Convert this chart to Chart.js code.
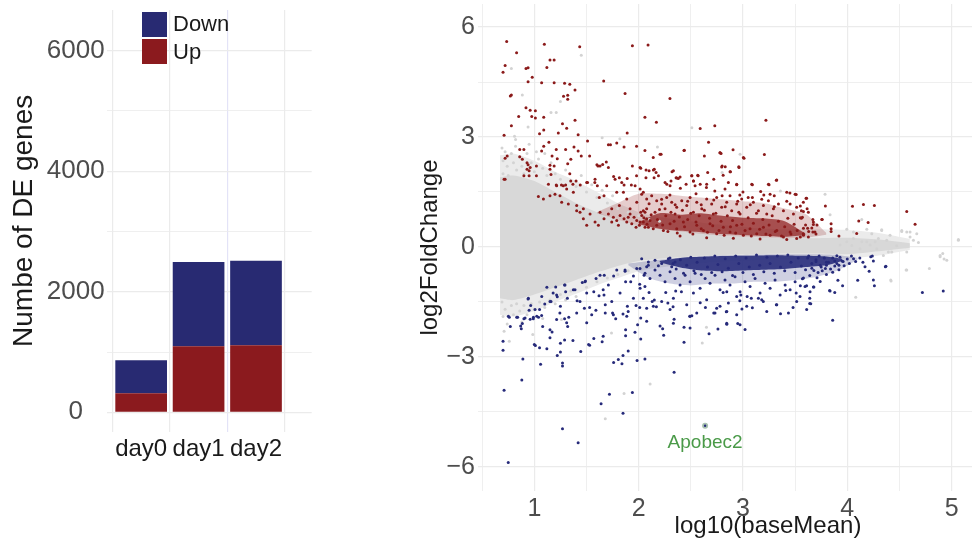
<!DOCTYPE html>
<html>
<head>
<meta charset="utf-8">
<script src="https://cdn.jsdelivr.net/npm/chart.js@4.4.1/dist/chart.umd.min.js"></script>
<style>
html, body { margin: 0; padding: 0; background: #fff; overflow: hidden; width: 972px; height: 548px; }
body { position: relative; font-family: "Liberation Sans", Arial, sans-serif; }
#barWrap { position: absolute; left: 0; top: 0; width: 320px; height: 548px; }
#maWrap { position: absolute; left: 400px; top: 0; width: 672px; height: 548px; }
.legend { position: absolute; left: 142px; top: 10.5px; font-size: 22px; color: #1a1a1a; }
.legend .row { display: flex; align-items: center; height: 27.6px; }
.legend .box { width: 25px; height: 25px; margin-right: 6px; }
</style>
</head>
<body>
<div id="barWrap"><canvas id="barChart" width="320" height="548"></canvas></div>
<div class="legend">
  <div class="row"><div class="box" style="background:#282a72"></div>Down</div>
  <div class="row"><div class="box" style="background:#8b1a1e"></div>Up</div>
</div>
<div id="maWrap"><canvas id="maChart" width="672" height="548"></canvas></div>

<script>
// ─── DATA ────────────────────────────────────────────────────────────────────

// left panel: number of DE genes per day
const days = ["day0", "day1", "day2"];
const upCounts = [315, 1094, 1111];
const downCounts = [547, 1398, 1403];
const countTicks = [0, 1000, 2000, 3000, 4000, 5000, 6000];

// right panel: MA plot, [log10(baseMean), log2FoldChange]
const meanTicks = [0.5, 1, 1.5, 2, 2.5, 3, 3.5, 4, 4.5, 5, 5.5, 6];
const lfcTicks = [-6, -4.5, -3, -1.5, 0, 1.5, 3, 4.5, 6];

// dense grey cloud, read as upper / lower edges
const greyEnvX    = [0.67, 0.8, 1.0, 1.2, 1.4, 1.6, 1.8, 2.0, 2.2, 2.5, 2.8, 3.1, 3.4, 3.7, 4.0, 4.3, 4.6];
const greyOuterHi = [2.5, 2.55, 2.35, 2.05, 1.8, 1.5, 1.2, 0.95, 0.82, 0.7, 0.6, 0.52, 0.48, 0.48, 0.46, 0.38, 0.22];
const greyOuterLo = [-1.85, -1.9, -1.75, -1.5, -1.28, -1.05, -0.85, -0.66, -0.56, -0.47, -0.4, -0.36, -0.33, -0.33, -0.31, -0.23, -0.08];
const greyCoreHi  = [1.9, 1.95, 1.8, 1.5, 1.2, 0.95, 0.75, 0.58, 0.48, 0.4, 0.32, 0.27, 0.24, 0.24, 0.25, 0.2, 0.1];
const greyCoreLo  = [-1.4, -1.45, -1.3, -1.1, -0.9, -0.7, -0.52, -0.38, -0.32, -0.26, -0.22, -0.2, -0.18, -0.18, -0.2, -0.12, -0.02];

// up band: scattered part and densest part
const redOuterX  = [1.6, 1.8, 2.0, 2.2, 2.4, 2.6, 2.8, 3.0, 3.2, 3.4, 3.6, 3.8];
const redOuterHi = [0.95, 1.2, 1.45, 1.45, 1.4, 1.35, 1.3, 1.25, 1.2, 1.05, 0.9, 0.38];
const redOuterLo = [0.92, 0.75, 0.58, 0.48, 0.42, 0.36, 0.31, 0.28, 0.26, 0.24, 0.25, 0.33];
const redCoreX   = [2.0, 2.2, 2.4, 2.6, 2.8, 3.0, 3.2, 3.4, 3.6];
const redCoreHi  = [0.68, 0.92, 0.88, 0.92, 0.85, 0.8, 0.78, 0.7, 0.36];
const redCoreLo  = [0.62, 0.5, 0.44, 0.4, 0.35, 0.32, 0.3, 0.28, 0.32];

// down band: scattered part and densest part
const blueOuterX  = [1.9, 2.1, 2.3, 2.5, 2.7, 2.9, 3.1, 3.3, 3.5, 3.7, 3.9, 4.1];
const blueOuterHi = [-0.45, -0.38, -0.32, -0.27, -0.24, -0.22, -0.21, -0.2, -0.2, -0.2, -0.22, -0.3];
const blueOuterLo = [-0.5, -0.85, -1.0, -1.05, -1.0, -1.0, -0.95, -0.95, -0.9, -0.82, -0.65, -0.35];
const blueCoreX   = [2.2, 2.4, 2.6, 2.8, 3.0, 3.2, 3.4, 3.6, 3.8, 3.95];
const blueCoreHi  = [-0.38, -0.3, -0.27, -0.25, -0.24, -0.23, -0.23, -0.24, -0.26, -0.32];
const blueCoreLo  = [-0.42, -0.56, -0.64, -0.66, -0.64, -0.62, -0.6, -0.55, -0.5, -0.38];

const upGenes = [
  [0.735,5.61],[1.096,5.53],[1.435,5.46],[1.94,5.49],[2.09,5.51],[0.83,5.30],[0.72,4.95],[0.70,4.77],[0.92,4.87],[0.94,4.89],
  [1.15,5.10],[1.19,5.10],[1.12,4.90],[0.98,4.63],[0.94,4.51],[1.07,4.48],[1.19,4.48],[1.29,4.47],[1.34,4.44],[1.39,4.28],
  [1.32,4.14],[1.28,4.11],[1.32,4.03],[0.77,4.12],[0.78,4.15],[1.665,4.53],[1.87,4.19],[2.30,4.05],[0.92,3.80],[0.96,3.73],
  [1.01,3.72],[0.85,3.56],[0.975,3.56],[1.01,3.52],[1.09,3.54],[1.39,3.46],[2.06,3.54],[2.17,3.40],[0.78,3.31],[1.27,3.36],
  [1.31,3.24],[1.09,3.19],[2.59,3.23],[2.73,3.31],[0.71,3.05],[1.05,3.09],[1.23,3.11],[1.42,3.06],[1.89,3.11],
  [3.22,3.46],[3.205,2.52],[2.905,2.65],[3.01,2.42],[2.96,2.19],[2.80,2.21],[2.78,2.57],[2.88,2.05],[2.94,1.70],[3.09,1.70],
  [3.25,1.70],[3.32,1.82],[3.17,1.51],[3.26,1.44],[3.30,1.40],[3.45,1.47],[3.51,1.43],[3.61,1.33],[3.79,1.12],[4.05,1.11],
  [4.155,1.16],[4.26,1.13],[4.57,0.97],[4.65,0.62],[3.845,0.63],[3.845,0.50],[4.20,0.67],[4.09,0.37],[3.92,0.30],[3.755,0.75],
  [3.675,0.68],[3.71,0.60],[3.58,0.97],[3.57,0.81],[3.09,1.35],[3.05,1.35],[2.97,1.42],
  [4.11,0.71],[3.845,0.42],[3.67,0.75],[3.675,0.61],[3.69,0.41],[3.67,0.41],[3.76,0.75],[3.615,1.04],[3.56,0.99],[3.56,0.78],
  [3.62,0.51],[3.58,0.51],[3.55,0.27],
  [0.74,2.48],[0.72,2.42],[0.72,1.85],[0.86,2.66],[0.90,2.66],[0.86,2.46],[0.885,2.39],[0.93,2.30],[0.94,2.24],[0.96,2.17],
  [0.93,2.12],[0.90,1.94],[0.95,1.94],[0.95,2.08],[1.02,2.21],[1.02,1.94],[1.07,2.62],[1.09,2.75],[1.14,2.86],[1.21,2.66],
  [1.17,2.48],[1.15,2.23],[1.19,2.21],[1.22,2.41],[1.30,2.66],[1.35,2.39],[1.32,2.27],[1.38,2.73],[1.42,2.62],[1.45,2.48],
  [1.51,2.89],[1.53,2.48],[1.61,2.21],[1.655,2.25],[1.69,2.32],[1.71,2.79],[1.73,2.79],[1.79,2.84],[1.86,2.73],[1.94,2.21],
  [1.98,2.75],[2.06,2.63],[2.14,2.44],[2.205,2.53],[2.32,2.05],[2.38,1.87],[2.435,2.63],[2.51,1.94],[2.57,1.94],[2.63,2.48],
  [2.67,2.86],[2.79,2.55],[2.83,2.19],[2.73,1.53],
  [1.15,2.12],[1.16,1.98],[1.21,1.69],[1.26,1.69],[1.30,1.69],[1.34,2.00],[1.37,1.71],[1.40,1.80],[1.44,1.69],[1.51,1.76],
  [1.58,1.76],[1.60,2.24],[1.63,2.21],[1.71,2.17],[1.76,1.92],[1.815,1.89],[1.86,1.69],[1.89,1.87],[1.93,1.69],[1.98,1.94],
  [2.02,2.15],[2.07,1.89],[2.10,2.08],[2.15,2.12],[2.19,1.94],[2.27,1.71],[2.31,1.80],[2.365,1.88],[2.40,1.60],[2.455,1.71],
  [2.525,1.80],[2.59,1.71],[2.65,1.62],[2.72,1.85],[2.81,1.96],[2.86,1.76],
  [0.71,1.85],[1.039,1.38],[1.087,1.31],[1.15,1.40],[1.198,1.44],[1.246,1.40],[1.31,1.58],[1.262,1.22],[1.326,1.17],[1.374,1.49],
  [1.406,1.13],[1.438,0.95],[1.47,1.04],[1.582,1.85],[1.604,1.67],[1.623,1.35],[1.668,1.40],[1.694,1.67],[1.742,1.04],[1.774,1.85],
  [1.79,1.49],[1.815,1.13],[1.838,1.76],[1.854,1.49],[1.886,1.31],[1.918,1.04],[1.966,1.67],[1.982,1.22],[2.014,1.58],[2.045,1.49],
  [2.077,1.04],[1.278,1.67],[1.214,1.67],[1.135,1.71],[1.349,1.80],[1.502,1.76],
  [1.71,0.90],[1.758,0.81],[1.79,0.72],[1.822,0.86],[1.86,0.77],[1.886,0.68],[1.918,0.90],[1.934,0.63],[1.956,0.81],[1.982,0.72],
  [2.007,0.59],[2.03,0.86],[2.045,0.68],[2.077,0.77],[2.093,0.54],[1.742,0.68],[1.806,0.59],[1.90,0.81],[1.975,0.54],[2.061,0.95],
  [1.406,0.99],[1.47,0.77],[1.534,0.90],[1.582,0.68],[1.63,0.95],[1.668,0.77],[1.502,0.59],[1.614,0.59],
  [2.438,2.64],[2.215,2.53],[2.013,2.17],[2.071,2.10],[2.141,2.10],[2.167,2.03],[2.148,1.89],[2.333,2.08],[2.359,1.89],[2.397,1.91],
  [2.509,1.94],[2.566,1.96],[2.662,2.03],[2.78,2.57],[2.796,2.18],[2.876,2.05],[2.962,2.17],[3.004,2.44],[2.253,1.76],[2.301,1.67],
  [2.525,1.80],[2.541,1.67],[2.652,1.71],[2.828,1.58],[2.876,1.40],[2.94,1.71],[3.084,1.71],[3.244,1.71],[3.324,1.83],[3.42,1.49],
  [3.50,1.44],[3.605,1.33],
  [2.029,1.44],[2.077,1.31],[2.125,1.40],[2.173,1.26],[2.221,1.17],[2.269,1.35],[2.317,1.22],[2.365,1.08],[2.413,1.26],[2.461,1.13],
  [2.493,1.35],[2.557,1.22],[2.605,1.04],[2.652,1.31],[2.70,1.17],[2.748,1.35],[2.796,1.08],[2.844,1.22],[2.892,0.99],[2.94,1.17],
  [2.988,1.31],[3.036,1.08],[3.10,1.22],[3.148,0.99],[3.196,1.13],[3.244,1.26],[3.292,1.04],[3.34,1.17],[3.388,0.99],[3.452,1.17],
  [3.515,1.08],[3.579,1.22],[3.627,0.95],[2.045,0.99],[2.157,0.95],[2.253,1.04],[2.349,0.90],[2.525,0.95],[2.716,0.90],[2.972,0.90],
  [3.228,0.90],[3.484,0.90],
  [2.013,0.68],[2.061,0.54],[2.109,0.72],[2.173,0.59],[2.237,0.45],[2.301,0.63],[2.365,0.50],[2.429,0.68],[2.493,0.41],[2.557,0.59],
  [2.621,0.45],[2.684,0.63],[2.748,0.36],[2.812,0.54],[2.876,0.41],[2.94,0.59],[3.004,0.32],[3.068,0.50],[3.132,0.36],[3.196,0.54],
  [3.26,0.32],[3.324,0.45],[3.388,0.27],[3.452,0.41],[3.515,0.23],[3.579,0.36],[3.627,0.27],[2.397,0.30],[2.652,0.25],[2.908,0.24],
  [3.164,0.22],[3.42,0.20],
  [2.02,0.95],[2.05,0.80],[2.08,0.62],[2.12,0.88],[2.14,0.50],[2.18,0.75],[2.20,1.02],[2.23,0.60],[2.26,0.85],[2.28,0.42],
  [2.31,0.95],[2.34,0.70],[2.37,0.38],[2.39,0.82],[2.42,1.00],[2.44,0.55],[2.47,0.75],[2.50,0.92],[2.52,0.35],[2.55,0.68],
  [2.58,0.85],[2.60,0.50],[2.63,1.00],[2.66,0.40],[2.68,0.78],[2.71,0.58],[2.74,0.92],[2.77,0.45],[2.79,0.70],[2.82,0.32],
  [2.85,0.85],[2.88,0.55],[2.90,0.72],[2.93,0.38],[2.96,0.95],[2.99,0.62],[3.02,0.45],[3.05,0.80],[3.08,0.30],[3.10,0.65],
  [3.13,0.92],[3.16,0.48],[3.19,0.75],[3.22,0.35],[3.25,0.60],[3.28,0.85],[3.31,0.42],[3.34,0.70],[3.37,0.30],[3.40,0.55],
  [3.43,0.78],[3.46,0.35],[3.49,0.62],[3.52,0.45],[3.55,0.80],[3.58,0.32],[3.60,0.60],[3.63,0.42],[3.66,0.52],[3.70,0.35],
  [2.10,1.18],[2.22,1.30],[2.35,1.15],[2.47,1.25],[2.60,1.15],[2.72,1.28],[2.83,1.10],[2.95,1.25],[3.07,1.15],[3.18,1.30],
  [3.30,1.10],[3.42,1.25],[3.55,1.12],[2.30,1.42],[2.55,1.45],[2.80,1.40],[3.00,1.50],[3.20,1.42]
];

const downGenes = [
  [0.75,-5.88],[1.42,-5.34],[1.27,-4.96],[0.71,-3.91],[0.88,-3.63],[1.64,-4.28],[1.72,-4.02],[1.85,-4.54],[1.94,-3.97],[2.34,-3.42],
  [0.70,-2.57],[0.70,-2.82],[0.89,-3.06],[1.06,-3.20],[1.27,-3.17],[1.27,-3.25],[1.22,-2.96],[1.25,-2.87],[1.12,-2.78],[1.05,-2.75],
  [1.00,-2.66],[1.01,-2.69],[1.445,-2.85],[1.52,-2.66],[1.53,-2.68],[1.76,-3.15],[1.805,-3.07],[1.84,-3.19],[1.85,-2.96],[1.90,-2.84],
  [1.985,-3.10],[2.06,-3.06],[1.57,-2.50],[1.65,-2.59],[1.66,-2.44],[1.875,-2.26],[1.875,-2.42],[1.965,-2.33],[2.02,-2.51],[2.23,-2.23],
  [2.24,-2.41],[2.435,-2.60],[2.435,-2.19],[2.34,-1.97],[2.49,-1.89],[2.51,-1.88],[2.675,-2.37],[2.76,-2.24],[2.845,-2.11],
  [0.76,-1.92],[0.77,-2.17],[0.84,-1.92],[0.875,-2.23],[0.885,-2.09],[0.90,-1.96],[0.96,-1.97],[0.99,-1.96],[1.04,-1.92],[1.08,-2.17],
  [1.15,-2.26],[1.17,-2.32],[1.15,-2.48],[1.25,-2.63],[1.29,-2.54],[1.37,-2.55],[1.32,-2.17],[1.33,-1.92],[1.29,-1.96],[1.245,-1.80],
  [1.25,-1.62],[0.94,-1.42],[0.965,-1.60],[0.95,-1.73],[1.05,-1.71],[1.07,-1.87],[1.10,-1.56],[1.16,-1.49],[1.22,-1.36],[1.18,-1.26],
  [1.29,-1.04],[1.30,-1.22],[1.12,-1.10],[1.205,-1.09],[1.39,-1.17],[1.46,-0.97],[1.49,-0.93],[1.57,-1.22],[1.62,-1.33],[1.66,-1.17],
  [1.41,-1.47],[1.48,-1.67],[1.53,-1.65],[1.59,-1.73],[1.68,-1.58],[1.68,-1.80],[1.75,-1.80],[1.78,-1.96],[1.85,-1.83],[1.90,-1.76],
  [1.975,-1.60],[2.01,-1.65],[2.02,-1.94],[1.99,-2.12],
  [1.67,-0.77],[1.76,-0.79],[1.87,-0.66],[1.875,-0.95],[1.95,-0.79],[2.01,-1.02],[2.06,-1.08],[2.10,-1.24],[2.13,-1.49],[2.15,-1.45],
  [2.17,-1.63],[2.28,-1.53],[2.33,-1.63],[2.26,-1.24],[2.355,-1.20],[2.41,-1.22],[2.525,-1.26],[2.59,-1.52],[2.64,-1.65],[2.72,-1.80],
  [2.78,-1.62],[2.845,-1.76],
  [2.95,-2.09],[3.02,-2.25],[2.84,-1.77],[2.99,-1.69],[3.09,-1.66],[3.86,-2.00],[4.72,-1.245],[4.92,-1.20],[4.10,-0.91],[4.25,-0.90],
  [4.26,-1.06],[4.21,-0.66],[4.37,-0.53],[4.225,-0.27],[3.36,-1.82],[3.48,-1.65],[3.32,-1.58],[3.64,-1.54],[3.64,-1.40],[3.18,-1.44],
  [3.195,-1.49],[3.08,-1.40],[2.97,-1.47],[2.94,-1.35],[2.98,-1.31],[3.04,-1.35],[2.81,-1.24],[2.845,-1.22],[3.41,-1.19],[3.51,-1.26],
  [3.675,-1.09],[3.835,-1.20],[3.88,-1.24],[3.955,-1.06],
  [4.365,-0.54],[4.24,-0.25],[4.25,-0.38],[3.83,-1.19],[3.91,-0.91],[3.74,-0.94],[3.71,-0.84],[3.61,-1.06],[3.68,-1.09],[4.06,-0.32],
  [4.00,-0.33],[3.90,-0.24],[4.17,-0.54],[3.97,-0.51],[3.92,-0.62],[3.86,-0.69],[3.79,-0.59],[3.80,-0.42],[3.75,-0.55],[3.68,-0.64],
  [3.57,-0.87],[3.55,-1.06],[3.65,-1.55],
  [3.86,-0.30],[3.90,-0.45],[3.95,-0.38],[4.02,-0.45],[4.08,-0.40],[4.12,-0.30],[4.15,-0.42],[3.88,-0.52],[3.93,-0.28],[4.04,-0.25],
  [2.013,-0.59],[2.061,-0.72],[2.109,-0.86],[2.157,-0.63],[2.205,-0.77],[2.253,-0.95],[2.301,-0.68],[2.349,-0.86],[2.397,-1.04],[2.445,-0.77],
  [2.493,-0.95],[2.541,-0.72],[2.589,-1.13],[2.637,-0.86],[2.684,-0.99],[2.732,-0.77],[2.78,-1.17],[2.828,-0.90],[2.876,-1.04],[2.924,-0.81],
  [2.972,-1.22],[3.02,-0.95],[3.068,-1.08],[3.116,-0.86],[3.164,-1.26],[3.212,-0.99],[3.26,-1.13],[3.308,-0.90],[3.356,-1.31],[3.404,-1.04],
  [3.452,-1.17],[3.50,-0.95],[3.547,-1.35],[3.595,-1.08],[3.643,-1.22],
  [2.045,-1.40],[2.141,-1.62],[2.221,-1.49],[2.301,-1.71],[2.333,-1.40],[2.461,-1.58],[2.557,-1.80],[2.493,-1.89],[2.652,-1.44],[2.748,-1.67],
  [2.86,-1.53],[2.94,-1.85],[3.036,-1.62],[3.148,-1.40],[3.228,-1.76],[3.324,-1.58],[3.436,-1.80],[3.515,-1.49],[3.611,-1.71],[2.077,-2.03],
  [2.205,-2.16],[2.333,-2.08],[2.493,-2.21],[2.732,-1.80],[2.844,-2.08],[2.972,-2.12],
  [2.029,-0.32],[2.093,-0.41],[2.157,-0.36],[2.221,-0.45],[2.285,-0.32],[2.349,-0.41],[2.077,-0.54],[2.189,-0.51],[2.317,-0.54],
  [0.751,-1.89],[0.831,-1.92],[0.869,-2.16],[0.911,-1.94],[0.991,-1.92],[1.023,-1.89],[0.943,-1.40],[1.007,-1.71],[1.071,-1.35],[1.15,-1.49],
  [1.214,-1.31],[1.294,-1.04],[1.317,-1.40],[1.374,-1.17],[1.406,-1.80],[1.438,-1.49],[1.486,-0.95],[1.502,-1.26],[1.55,-1.85],[1.592,-0.86],
  [1.63,-0.77],[1.668,-1.31],[1.71,-1.04],[1.742,-1.49],[1.758,-1.85],[1.79,-0.63],[1.822,-1.26],[1.87,-0.63],[1.892,-1.62],[1.924,-0.95],
  [1.95,-1.40],[1.982,-0.59],[2.014,-1.13],[2.052,-0.77],[2.077,-1.67],[2.093,-0.50],[1.214,-1.98],[1.31,-2.07],[1.502,-2.07],[1.886,-1.89],
  [3.62,-0.30],[3.66,-0.45],[3.70,-0.35],[3.74,-0.50],[3.78,-0.30],[3.82,-0.42],[3.72,-0.70],[3.64,-0.78],[3.58,-0.85],[3.80,-0.75],
  [2.30,-0.30],[2.33,-0.45],[2.36,-0.60],[2.40,-0.35],[2.43,-0.72],[2.46,-0.50],[2.50,-0.28],[2.53,-0.65],[2.56,-0.42],[2.60,-0.75],
  [2.63,-0.30],[2.66,-0.55],[2.70,-0.70],[2.73,-0.25],[2.76,-0.48],[2.80,-0.68],[2.83,-0.32],[2.86,-0.58],[2.90,-0.78],[2.93,-0.25],
  [2.96,-0.45],[3.00,-0.70],[3.03,-0.30],[3.06,-0.55],[3.10,-0.75],[3.13,-0.22],[3.16,-0.50],[3.20,-0.68],[3.23,-0.28],[3.26,-0.45],
  [3.30,-0.72],[3.33,-0.25],[3.36,-0.55],[3.40,-0.65],[3.43,-0.22],[3.46,-0.42],[3.50,-0.70],[3.53,-0.30],[3.56,-0.52],[3.60,-0.62],
  [3.63,-0.25],[3.66,-0.58],[3.70,-0.40],[3.73,-0.25],[3.76,-0.65],[3.80,-0.50],[3.84,-0.60],[3.88,-0.38],[3.92,-0.50],[3.96,-0.40]
];

const otherGenes = [
  [0.69,2.7],[0.72,2.6],[0.70,2.35],[0.74,2.2],[0.78,2.55],[0.80,2.3],[0.83,2.1],[0.86,2.45],[0.90,2.0],[0.93,2.55],
  [0.97,2.3],[1.00,2.05],[1.04,2.4],[1.08,2.15],[1.12,1.95],[1.16,2.3],[1.20,2.0],[1.25,1.85],[1.30,2.1],[1.35,1.8],
  [0.70,2.0],[0.75,1.95],[0.88,2.2],[1.02,2.6],[0.82,2.75],[0.95,2.8],[1.10,2.55],[1.40,1.65],[1.50,1.5],[1.45,1.95],
  [1.60,1.35],[1.55,1.7],[1.70,1.2],[1.65,1.55],[1.80,1.05],[1.90,0.95],[1.75,1.4],[2.00,0.85],[2.10,0.75],[2.20,0.7],
  [0.78,4.87],[1.45,5.23],[0.885,4.15],[1.25,3.97],[1.16,3.67],[1.21,3.67],[0.94,3.27],[0.81,3.02],[0.82,2.93],[2.51,3.25],
  [1.65,2.98],[1.82,2.95],[2.18,2.73],[2.80,2.03],[3.787,1.44],[3.835,0.88],[3.359,1.53],[2.972,2.53],
  [0.69,-1.5],[0.72,-1.7],[0.70,-1.9],[0.74,-2.1],[0.78,-1.6],[0.80,-1.85],[0.83,-1.55],[0.86,-1.75],[0.90,-1.6],[0.93,-1.85],
  [0.97,-1.55],[1.00,-1.7],[1.05,-1.5],[1.10,-1.65],[1.15,-1.45],[1.20,-1.55],[1.25,-1.3],[1.30,-1.45],[1.35,-1.2],[1.40,-1.35],
  [1.50,-1.1],[1.60,-0.95],[1.70,-0.85],[1.80,-0.75],[1.90,-0.65],[2.00,-0.55],[0.76,-2.57],[0.985,-2.39],[1.26,-1.98],[1.74,-2.35],
  [2.11,-3.74],[1.86,-4.0],[1.68,-4.69],[2.65,-2.19],[2.61,-2.62],[0.71,-2.3],[0.88,-2.05],[1.08,-1.95],
  [3.995,0.48],[4.059,0.41],[4.139,0.75],[4.187,0.48],[4.235,0.36],[4.267,0.14],[4.33,0.47],[4.378,0.18],[4.426,-0.14],[4.474,0.03],
  [4.522,0.45],[4.57,0.41],[4.602,0.27],[4.634,0.18],[4.682,0.12],[4.57,-0.14],[4.564,-0.63],[4.787,-0.59],[4.89,-0.23],[4.915,-0.18],
  [4.954,-0.36],[5.065,0.18],[4.417,-0.90],[4.081,-1.37],[4.043,0.04],[4.123,-0.05],[4.187,0.14],[4.283,-0.05],[4.346,-0.23],[4.394,-0.14],
  [4.298,0.23],[4.219,0.05],[4.139,0.14],[4.059,0.23],[3.995,0.14],[3.931,0.05],[4.89,-0.27],[4.928,-0.33],[4.57,-0.63],[4.42,-0.93],
  [5.065,0.20],[4.666,0.36],[4.602,0.41],[4.522,0.42],[4.41,0.32],[4.33,0.45]
];

const labelGene = { name: "Apobec2", x: 2.637, y: -4.88 };

// ─── STYLE ───────────────────────────────────────────────────────────────────

const FONT = '"Liberation Sans", Arial, sans-serif';
const RED = "#8b1a1e";
const BLUE = "#282a72";
const PT_RED = "#8b1a1a";
const PT_BLUE = "#262a7a";
const GRID = "#ebebeb";

Chart.defaults.font.family = FONT;

// no extra room for half-labels at the axis ends
const noPadY = s => { s.paddingTop = 0; s.paddingBottom = 0; };
const noPadX = s => { s.paddingLeft = 0; s.paddingRight = 0; };

// ─── BAR CHART ───────────────────────────────────────────────────────────────

new Chart(document.getElementById("barChart"), {
    type: "bar",
    data: {
        datasets: [
            { label: "Up",   data: upCounts.map((v, i) => ({ x: i, y: v })),   backgroundColor: RED },
            { label: "Down", data: downCounts.map((v, i) => ({ x: i, y: v })), backgroundColor: BLUE }
        ]
    },
    options: {
        responsive: false,
        animation: false,
        events: [],
        layout: { padding: { top: 10, right: 8.3, left: 0, bottom: 0 } },
        plugins: { legend: { display: false }, tooltip: { enabled: false } },
        datasets: { bar: { barPercentage: 0.9, categoryPercentage: 1 } },
        scales: {
            x: {
                type: "linear", stacked: true, offset: false, min: -0.6, max: 2.97,
                afterBuildTicks: s => { s.ticks = days.map((d, i) => ({ value: i })); },
                afterFit: s => { s.height = 116.3; noPadX(s); },
                border: { display: false },
                grid: { drawTicks: false, lineWidth: 1.2, color: c => (c.tick && c.tick.value === 2) ? "#e3e3f7" : GRID },
                ticks: { padding: 3, color: "#1a1a1a", font: { size: 24 }, callback: v => days[v] ?? "" }
            },
            y: {
                stacked: true, min: -322, max: 6675,
                afterBuildTicks: s => { s.ticks = countTicks.map(v => ({ value: v })); },
                afterFit: s => { s.width = 106.7; noPadY(s); },
                border: { display: false },
                grid: { drawTicks: false, color: GRID, lineWidth: c => (c.tick && c.tick.value % 2000) ? 0.8 : 1.2 },
                ticks: { crossAlign: "center", padding: 2, color: "#4d4d4d", font: { size: 26 },
                         callback: v => v % 2000 === 0 ? String(v) : "" },
                title: { display: true, text: "Numbe of DE genes", color: "#1a1a1a", font: { size: 28 }, padding: { top: 7, bottom: 0 } }
            }
        }
    }
});

// ─── MA PLOT ─────────────────────────────────────────────────────────────────

const env = (xs, ys) => xs.map((x, i) => ({ x, y: ys[i] }));
const pts = arr => arr.map(p => ({ x: p[0], y: p[1] }));

const maSets = [];
let drawOrder = 40;

// an area between two edges: lower edge first, upper edge fills down to it
function addBand(xs, lo, hi, color) {
    const base = maSets.length;
    const common = { type: "line", backgroundColor: color, borderWidth: 0, borderColor: "rgba(0,0,0,0)",
                     pointRadius: 0, tension: 0.25 };
    maSets.push({ ...common, data: env(xs, lo), fill: false, order: drawOrder-- });
    maSets.push({ ...common, data: env(xs, hi), fill: base, order: drawOrder-- });
}
function addDots(data, color, radius) {
    maSets.push({ type: "scatter", data, backgroundColor: color, pointRadius: radius, pointBorderWidth: 0, order: drawOrder-- });
}

addBand(greyEnvX, greyOuterLo, greyOuterHi, "#ebebeb");
addBand(greyEnvX, greyCoreLo, greyCoreHi, "#d8d8d8");
addBand(redOuterX, redOuterLo, redOuterHi, "rgba(139,26,26,0.22)");
addBand(blueOuterX, blueOuterLo, blueOuterHi, "rgba(38,42,122,0.22)");
addBand(redCoreX, redCoreLo, redCoreHi, "rgba(139,26,26,0.7)");
addBand(blueCoreX, blueCoreLo, blueCoreHi, "rgba(38,42,122,0.88)");
addDots(pts(otherGenes), "#d3d3d3", 1.5);
addDots(pts(upGenes), PT_RED, 1.5);
addDots(pts(downGenes), PT_BLUE, 1.5);
addDots([{ x: labelGene.x, y: labelGene.y }], "rgba(95,140,110,0.55)", 3);
addDots([{ x: labelGene.x, y: labelGene.y }], PT_BLUE, 1.2);

const geneLabel = {
    id: "geneLabel",
    afterDatasetsDraw(chart) {
        const { ctx, scales: { x, y } } = chart;
        const px = x.getPixelForValue(labelGene.x);
        const py = y.getPixelForValue(labelGene.y);
        ctx.save();
        ctx.font = "19px " + FONT;
        ctx.fillStyle = "#4a9a48";
        ctx.textAlign = "center";
        ctx.textBaseline = "alphabetic";
        ctx.fillText(labelGene.name, px, py + 22.5);
        ctx.restore();
    }
};

new Chart(document.getElementById("maChart"), {
    type: "scatter",
    data: { datasets: maSets },
    options: {
        responsive: false,
        animation: false,
        events: [],
        layout: { padding: { top: 0, right: 14, left: 0, bottom: 0 } },
        plugins: { legend: { display: false }, tooltip: { enabled: false } },
        scales: {
            x: {
                type: "linear", min: 0.46, max: 6.02,
                afterBuildTicks: s => { s.ticks = meanTicks.map(v => ({ value: v })); },
                afterFit: s => { s.height = 57; noPadX(s); },
                border: { display: false },
                grid: { drawTicks: false, color: GRID, lineWidth: c => (c.tick && Number.isInteger(c.tick.value)) ? 1.2 : 0.8 },
                ticks: { padding: 3, color: "#4d4d4d", font: { size: 25 },
                         callback: v => (Number.isInteger(v) && v <= 5) ? String(v) : "" },
                title: { display: true, text: "log10(baseMean)", color: "#1a1a1a", font: { size: 24 }, padding: { top: 0, bottom: 7 } }
            },
            y: {
                type: "linear", min: -6.66, max: 6.63,
                afterBuildTicks: s => { s.ticks = lfcTicks.map(v => ({ value: v })); },
                afterFit: s => { s.width = 78; noPadY(s); },
                border: { display: false },
                grid: { drawTicks: false, color: GRID, lineWidth: c => (c.tick && c.tick.value % 3 === 0) ? 1.2 : 0.8 },
                ticks: { padding: 3, color: "#4d4d4d", font: { size: 25 },
                         callback: v => v % 3 === 0 ? (v < 0 ? "\u2212" + (-v) : String(v)) : "" },
                title: { display: true, text: "log2FoldChange", color: "#1a1a1a", font: { size: 24 }, padding: { top: 16, bottom: 0 } }
            }
        }
    },
    plugins: [geneLabel]
});
</script>
</body>
</html>
